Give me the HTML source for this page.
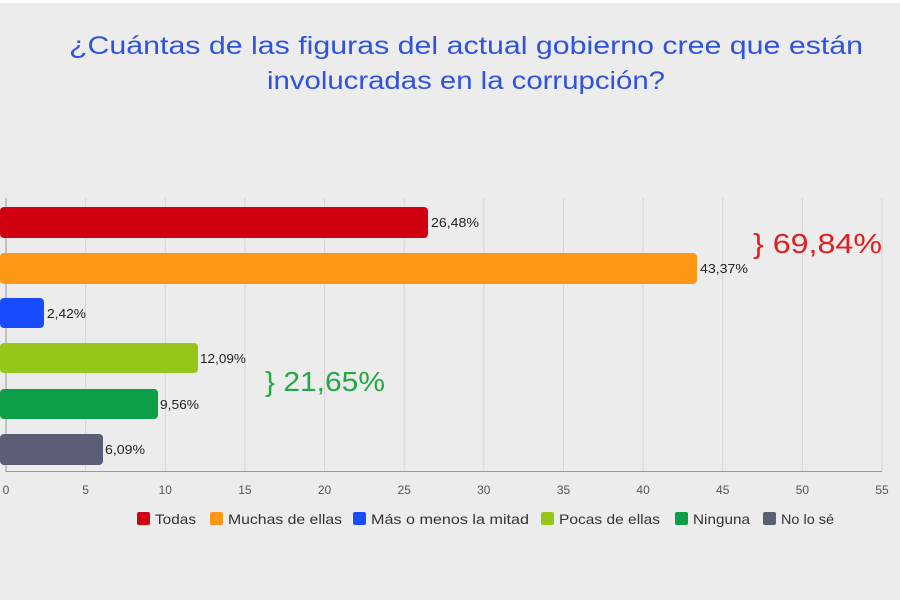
<!DOCTYPE html>
<html><head><meta charset="utf-8"><style>
body{margin:0;background:#fff}
svg{display:block;font-family:"Liberation Sans",sans-serif}
</style></head><body>
<svg width="900" height="600" viewBox="0 0 900 600">
<rect x="0" y="3" width="900" height="597" fill="#ececec"/>
<text x="466" y="54" font-size="25" fill="#2f52e0" text-anchor="middle" textLength="794" lengthAdjust="spacingAndGlyphs">¿Cuántas de las figuras del actual gobierno cree que están</text>
<text x="466" y="89" font-size="25" fill="#2f52e0" text-anchor="middle" textLength="398" lengthAdjust="spacingAndGlyphs">involucradas en la corrupción?</text>
<g stroke="#d6d6d6" stroke-width="1">
<line x1="85.6" y1="198" x2="85.6" y2="471"/><line x1="165.3" y1="198" x2="165.3" y2="471"/><line x1="244.9" y1="198" x2="244.9" y2="471"/><line x1="324.5" y1="198" x2="324.5" y2="471"/><line x1="404.2" y1="198" x2="404.2" y2="471"/><line x1="483.8" y1="198" x2="483.8" y2="471"/><line x1="563.5" y1="198" x2="563.5" y2="471"/><line x1="643.1" y1="198" x2="643.1" y2="471"/><line x1="722.7" y1="198" x2="722.7" y2="471"/><line x1="802.4" y1="198" x2="802.4" y2="471"/><line x1="882" y1="198" x2="882" y2="471"/>
</g>
<line x1="6" y1="198" x2="6" y2="472" stroke="#999"/>
<line x1="6" y1="471.5" x2="882" y2="471.5" stroke="#999"/>
<rect x="0" y="207" width="428" height="31" rx="4" fill="#d10010"/>
<rect x="0" y="253" width="697" height="31" rx="4" fill="#ff9716"/>
<rect x="0" y="298" width="44" height="30" rx="4" fill="#1a4cff"/>
<rect x="0" y="343" width="198" height="30" rx="4" fill="#97c61b"/>
<rect x="0" y="389" width="158" height="30" rx="4" fill="#0f9e48"/>
<rect x="0" y="434" width="103" height="31" rx="4" fill="#5c5e78"/>
<g font-size="12.5" fill="#222">
<text x="431" y="227" textLength="48" lengthAdjust="spacingAndGlyphs">26,48%</text>
<text x="700" y="273" textLength="48" lengthAdjust="spacingAndGlyphs">43,37%</text>
<text x="47" y="318" textLength="39" lengthAdjust="spacingAndGlyphs">2,42%</text>
<text x="200" y="363" textLength="46" lengthAdjust="spacingAndGlyphs">12,09%</text>
<text x="160" y="409" textLength="39" lengthAdjust="spacingAndGlyphs">9,56%</text>
<text x="105" y="454" textLength="40" lengthAdjust="spacingAndGlyphs">6,09%</text>
</g>
<text x="753" y="253" font-size="28" fill="#e02020" textLength="129" lengthAdjust="spacingAndGlyphs">} 69,84%</text>
<text x="265" y="391" font-size="28" fill="#22a844" textLength="120" lengthAdjust="spacingAndGlyphs">} 21,65%</text>
<g font-size="12" fill="#555" text-anchor="middle">
<text x="6" y="494">0</text><text x="85.6" y="494">5</text><text x="165.3" y="494">10</text><text x="244.9" y="494">15</text><text x="324.5" y="494">20</text><text x="404.2" y="494">25</text><text x="483.8" y="494">30</text><text x="563.5" y="494">35</text><text x="643.1" y="494">40</text><text x="722.7" y="494">45</text><text x="802.4" y="494">50</text><text x="882" y="494">55</text>
</g>
<g font-size="14" fill="#333">
<rect x="137" y="512" width="13" height="13" rx="2" fill="#d10010"/><text x="155" y="524" textLength="41" lengthAdjust="spacingAndGlyphs">Todas</text>
<rect x="210" y="512" width="13" height="13" rx="2" fill="#ff9716"/><text x="228" y="524" textLength="114" lengthAdjust="spacingAndGlyphs">Muchas de ellas</text>
<rect x="353" y="512" width="13" height="13" rx="2" fill="#1a4cff"/><text x="371" y="524" textLength="158" lengthAdjust="spacingAndGlyphs">Más o menos la mitad</text>
<rect x="541" y="512" width="13" height="13" rx="2" fill="#97c61b"/><text x="559" y="524" textLength="101" lengthAdjust="spacingAndGlyphs">Pocas de ellas</text>
<rect x="675" y="512" width="13" height="13" rx="2" fill="#0f9e48"/><text x="693" y="524" textLength="57" lengthAdjust="spacingAndGlyphs">Ninguna</text>
<rect x="763" y="512" width="13" height="13" rx="2" fill="#5c5e78"/><text x="781" y="524" textLength="53" lengthAdjust="spacingAndGlyphs">No lo sé</text>
</g>
</svg>
</body></html>
